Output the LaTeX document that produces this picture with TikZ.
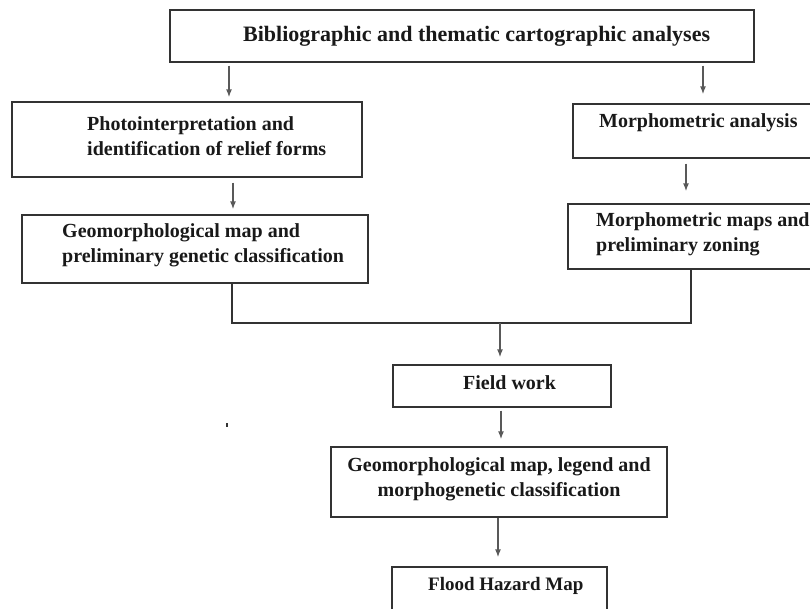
\documentclass[tikz,border=0pt]{standalone}
\usepackage{fontspec}
\setmainfont{Liberation Serif}
\usetikzlibrary{arrows.meta}
\tikzset{
  box/.style={draw=black!80, line width=1.3pt, inner sep=0pt},
  txt/.style={inner sep=0pt, font=\fontsize{20}{25}\selectfont\bfseries, text=black!90},
  arr/.style={draw=black!65, line width=1.4pt, -{Latex[length=8pt,width=6pt]}},
  ln/.style={draw=black!80, line width=1.3pt}
}
\begin{document}
\begin{tikzpicture}[x=1pt,y=-1pt]
\useasboundingbox (0,0) rectangle (810,609);
\clip (0,0) rectangle (810,609);
% boxes
\node[box, minimum width=584pt, minimum height=52pt] (top) at (462,36){};
\node[box, minimum width=350pt, minimum height=75pt] (photo) at (187,139.5){};
\node[box, minimum width=346pt, minimum height=68pt] (geo) at (195,249){};
\node[box, minimum width=257pt, minimum height=54pt] (morA) at (701.5,131){};
\node[box, minimum width=262pt, minimum height=65pt] (morM) at (699,236.5){};
\node[box, minimum width=218pt, minimum height=42pt] (field) at (502,386){};
\node[box, minimum width=336pt, minimum height=70pt] (legend) at (499,482){};
\node[box, minimum width=215pt, minimum height=73pt] (flood) at (499.5,603.5){};
% texts
\node[txt, anchor=west, font=\fontsize{22}{25}\selectfont\bfseries] (ttop) at (243,36){Bibliographic and thematic cartographic analyses};
\node[txt, anchor=west, align=left] (tphoto) at (87,136){Photointerpretation and\\identification of relief forms};
\node[txt, anchor=west, align=left] (tgeo) at (62,245.5){Geomorphological map and\\preliminary genetic classification};
\node[txt, anchor=west] (tmorA) at (599,123){Morphometric analysis};
\node[txt, anchor=west, align=left] (tmorM) at (596,234){Morphometric maps and\\preliminary zoning};
\node[txt, anchor=west] (tfield) at (463,383){Field work};
\node[txt, align=center] (tlegend) at (499,479){Geomorphological map, legend and\\morphogenetic classification};
\node[txt, anchor=west, font=\fontsize{19}{25}\selectfont\bfseries] (tflood) at (428,586){Flood Hazard Map};
% arrow columns
\coordinate (xa) at (229,0);
\coordinate (xb) at (703,0);
\coordinate (xc) at (233,0);
\coordinate (xd) at (686,0);
\coordinate (xe) at (232,0);
\coordinate (xf) at (691,0);
\coordinate (xg) at (500,0);
\coordinate (xh) at (501,0);
\coordinate (xi) at (498,0);
\coordinate (join) at (500,323);
\draw[arr] ([yshift=-3pt]top.south -| xa) -- ([yshift=4pt]photo.north -| xa);
\draw[arr] ([yshift=-3pt]top.south -| xb) -- ([yshift=9pt]morA.north -| xb);
\draw[arr] ([yshift=-5pt]photo.south -| xc) -- ([yshift=5pt]geo.north -| xc);
\draw[arr] ([yshift=-5pt]morA.south -| xd) -- ([yshift=12pt]morM.north -| xd);
\draw[ln] (geo.south -| xe) -- (join -| xe) -- (join -| xf) -- (morM.south -| xf);
\draw[arr] (join) -- ([yshift=7pt]field.north -| xg);
\draw[arr] ([yshift=-3pt]field.south -| xh) -- ([yshift=7pt]legend.north -| xh);
\draw[arr] (legend.south -| xi) -- ([yshift=9pt]flood.north -| xi);
% stray mark
\fill[black!80] (226,423) rectangle (228,427);
\end{tikzpicture}
\end{document}
